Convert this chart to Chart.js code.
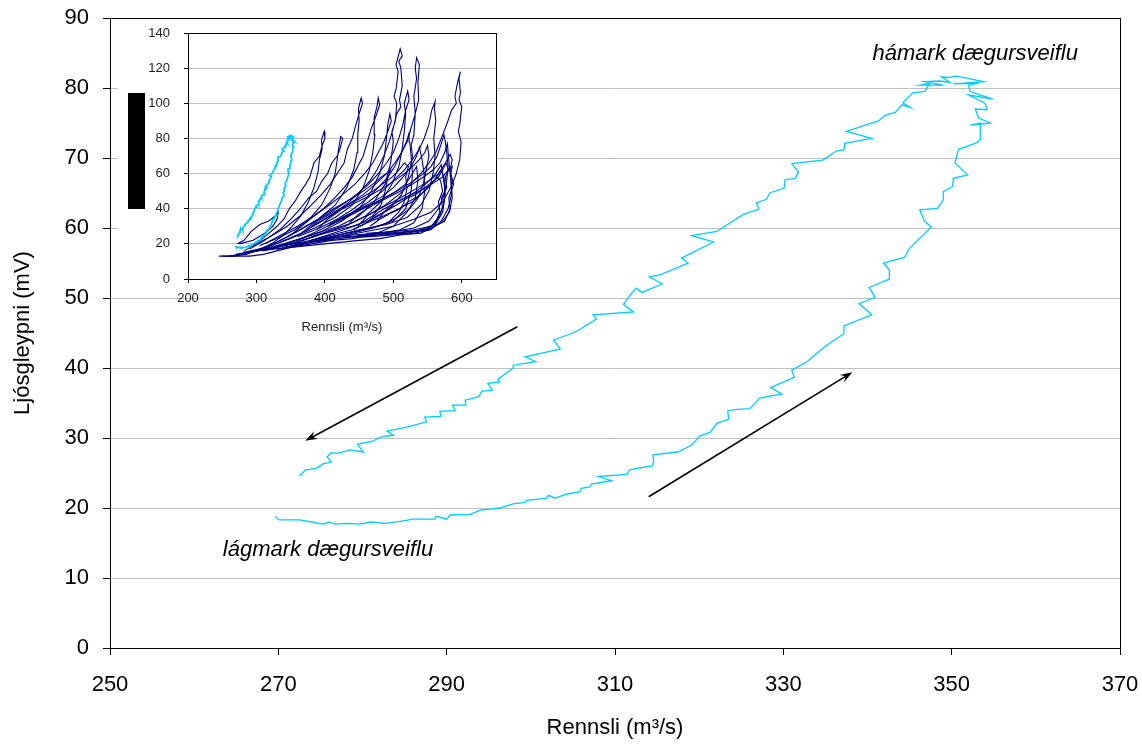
<!DOCTYPE html>
<html>
<head>
<meta charset="utf-8">
<script src="https://cdn.jsdelivr.net/npm/chart.js"></script>
<style>
  body { margin: 0; background: #fff; }
  #wrap { position: relative; width: 1142px; height: 745px; }
  #main { position: absolute; left: 0; top: 0; }
  #inset { position: absolute; left: 110px; top: 20px; }
</style>
</head>
<body>
<div id="wrap">
  <canvas id="main" width="1142" height="745"></canvas>
  <canvas id="inset" width="410" height="325"></canvas>
</div>
<script>
// one day cycle: Rennsli (m3/s) vs Ljósgleypni (mV), rising limb first, then falling limb
const rennsli = [
  269.6,270.1,272.5,274.0,275.2,276.1,276.7,278.1,279.7,280.9,282.7,284.5,286.0,288.6,288.7,290.0,
  290.4,292.8,294.0,296.3,297.9,299.3,299.5,301.9,302.1,302.9,304.3,305.8,306.0,307.0,307.2,309.6,
  308.0,311.4,311.8,314.4,314.6,314.5,317.5,319.1,320.1,321.3,322.1,323.5,323.4,324.5,326.0,327.2,
  329.8,328.5,330.8,331.3,331.0,332.8,334.0,335.2,337.2,337.2,340.5,339.0,340.9,340.2,342.6,342.6,
  341.9,344.4,345.0,347.6,346.8,346.2,348.3,349.0,349.0,350.1,350.2,351.9,350.4,350.8,353.0,353.4,
  353.4,352.2,354.6,353.2,352.8,354.2,354.0,352.0,354.9,352.2,352.0,353.2,350.2,353.8,350.6,349.6,
  348.8,349.8,348.6,346.8,349.0,346.2,347.4,346.8,345.4,344.2,345.1,344.1,343.3,342.1,341.3,337.5,
  340.5,337.3,337.2,336.3,334.7,331.0,331.8,331.4,330.2,330.1,328.4,328.0,326.8,327.1,325.2,322.1,
  319.1,321.7,317.9,318.7,315.6,314.1,315.6,313.2,312.5,311.6,311.0,312.2,307.4,307.8,305.8,305.0,
  302.7,303.5,299.3,300.6,297.9,297.9,296.1,296.3,294.9,295.4,294.2,293.8,292.2,292.3,290.7,291.0,
  289.2,289.3,287.4,287.6,285.4,284.7,282.9,283.7,282.3,281.1,279.4,280.1,278.5,277.1,276.3,275.8,
  276.3,275.3,274.6,273.2,272.9,272.5
];
const ljosgleypni = [
  18.8,18.3,18.3,18.0,17.7,18.0,17.7,17.8,17.7,18.0,17.8,18.1,18.4,18.4,18.8,18.4,
  19.0,19.1,19.7,20.0,20.6,20.8,21.1,21.4,21.8,21.4,22.0,22.3,22.8,23.0,23.4,23.9,
  24.5,24.8,25.5,26.0,26.6,27.6,28.0,29.0,30.3,30.8,32.1,32.7,33.9,34.1,34.2,35.7,
  36.3,37.2,38.4,38.7,39.7,40.9,42.1,43.3,44.9,46.0,47.6,49.2,50.1,51.5,52.7,54.0,
  55.0,55.8,57.1,60.2,60.9,62.6,62.8,64.0,65.2,65.9,67.1,67.6,69.3,71.2,72.2,72.6,
  75.0,74.7,75.0,75.7,77.0,76.9,77.8,79.0,78.4,79.5,80.4,80.7,80.6,80.9,81.7,81.5,
  81.6,80.8,81.0,80.9,80.4,80.4,80.7,79.5,79.3,77.9,77.2,77.6,76.5,76.1,75.3,73.8,
  72.8,72.1,71.2,71.0,69.7,69.2,68.0,67.1,66.9,65.7,65.0,64.1,63.6,62.7,61.9,59.5,
  58.9,58.0,55.7,55.0,53.4,53.0,52.0,50.8,51.4,50.1,49.1,48.0,47.6,47.0,45.5,45.0,
  44.0,42.7,41.6,40.9,40.4,40.0,38.4,38.0,37.8,36.8,36.7,35.9,35.4,34.7,34.7,33.9,
  33.8,33.1,33.0,32.3,31.6,31.4,31.0,30.4,30.2,29.5,29.1,28.0,28.3,27.8,27.9,27.3,
  26.6,26.3,25.7,25.4,25.0,24.6
];

// inset: other day cycles, [rennsli, ljósgleypni]
const insetLoops = [
  [[245,13],[265,13],[285,14],[305,17],[322,20],[340,25],[352,30],[365,36],[376,44],[384,52],[390,61],[392,68],[396,74],[395,79],[399,84],[400,80],[396,76],[392,70],[384,66],[378,58],[372,54],[365,50],[356,44],[348,40],[340,34],[330,30],[318,26],[300,20],[282,16]],
  [[260,13],[290,15],[320,19],[350,25],[375,33],[395,42],[408,52],[415,60],[418,68],[420,74],[423,81],[426,80],[422,74],[418,70],[410,66],[404,60],[396,56],[388,50],[376,46],[364,40],[350,34],[334,28],[312,22],[290,17]],
  [[270,14],[300,16],[330,21],[360,27],[390,34],[415,42],[432,52],[442,62],[447,72],[448,82],[450,90],[449,97],[453,103],[455,100],[450,94],[444,86],[440,80],[433,74],[428,66],[418,60],[408,54],[395,48],[380,42],[364,36],[345,30],[320,24],[295,19]],
  [[280,15],[315,18],[350,23],[385,29],[415,35],[440,42],[456,52],[465,62],[470,72],[473,82],[472,92],[476,98],[478,103],[480,99],[474,92],[468,86],[462,78],[456,70],[448,64],[440,58],[428,52],[414,46],[398,40],[378,34],[356,28],[330,23],[305,19]],
  [[300,16],[340,20],[380,25],[420,30],[450,36],[472,44],[488,54],[496,66],[500,78],[498,84],[503,90],[505,100],[501,104],[504,108],[507,118],[504,122],[506,125],[510,131],[513,127],[508,124],[511,120],[513,110],[509,102],[511,98],[505,94],[500,86],[494,78],[486,70],[476,62],[466,56],[452,50],[436,44],[416,38],[392,32],[365,26],[335,21]],
  [[320,17],[360,21],[400,26],[440,30],[470,34],[495,40],[512,48],[522,58],[528,70],[526,76],[530,82],[532,94],[530,104],[534,114],[532,120],[534,126],[538,122],[536,112],[537,102],[532,94],[526,86],[520,78],[512,72],[502,64],[492,58],[478,52],[462,46],[442,40],[418,34],[392,29],[360,24]],
  [[340,18],[380,21],[420,24],[460,27],[500,30],[530,34],[555,38],[572,44],[584,52],[592,60],[597,68],[599,78],[595,84],[597,88],[600,98],[596,102],[598,106],[596,114],[598,118],[594,112],[590,104],[592,100],[585,96],[578,88],[570,80],[562,72],[552,66],[540,60],[525,54],[508,48],[488,42],[466,37],[440,32],[410,28],[380,24]],
  [[330,17],[370,20],[410,24],[450,28],[490,31],[520,35],[540,42],[552,50],[558,60],[561,70],[559,80],[562,90],[560,97],[561,101],[556,96],[552,88],[545,80],[538,74],[528,68],[516,62],[500,56],[484,50],[464,44],[440,38],[414,32],[388,27],[360,22]],
  [[310,16],[350,20],[390,25],[430,30],[460,36],[482,44],[498,54],[508,64],[513,74],[516,84],[518,94],[516,100],[521,107],[523,102],[518,96],[514,88],[508,80],[500,72],[490,66],[478,60],[464,54],[446,48],[424,42],[400,36],[372,30],[345,24]],
  [[290,15],[325,18],[360,22],[395,27],[425,33],[450,40],[468,50],[480,60],[487,70],[490,80],[492,88],[495,94],[497,90],[492,84],[486,78],[478,72],[470,66],[458,60],[444,54],[426,48],[406,42],[384,36],[360,30],[336,25],[312,20]],
  [[350,19],[390,22],[430,26],[470,29],[500,33],[518,40],[526,50],[528,60],[526,70],[524,78],[523,83],[519,78],[512,72],[502,66],[490,60],[474,54],[456,48],[436,43],[412,37],[386,31]],
  [[380,21],[420,23],[460,25],[500,27],[530,29],[552,33],[566,40],[574,48],[578,56],[580,64],[578,72],[576,78],[574,82],[570,77],[564,70],[555,64],[544,60],[530,56],[514,52],[496,48],[476,44],[454,40],[430,36],[406,31]],
  [[400,23],[440,25],[480,26],[510,28],[530,32],[542,40],[546,50],[545,60],[542,68],[538,75],[534,70],[526,64],[514,58],[500,52],[484,47],[466,43],[446,39],[424,34]],
  [[420,24],[460,24],[500,25],[530,26],[555,28],[570,33],[580,40],[585,48],[584,56],[582,64],[580,72],[579,77],[575,72],[568,66],[558,62],[544,58],[528,54],[510,50],[490,46],[470,42],[450,37],[436,32]],
  [[440,24],[480,25],[520,26],[550,28],[570,32],[582,38],[586,46],[585,54],[583,62],[586,68],[583,71],[576,66],[566,60],[552,56],[536,52],[518,48],[500,44],[480,40],[462,36],[448,30]],
  [[460,26],[500,27],[530,28],[555,30],[568,36],[574,44],[575,52],[572,60],[570,65],[562,60],[550,55],[534,50],[516,46],[496,42],[478,38],[464,33]],
  [[275,20],[295,22],[312,26],[324,30],[330,34],[332,38],[328,36],[318,33],[305,31],[292,27],[282,22],[272,20]],
  [[300,16],[350,18],[400,20],[450,22],[480,23],[510,25],[540,26],[560,30],[572,38],[576,48],[574,58],[570,62],[560,56],[546,50],[528,44],[508,40],[486,36],[462,32],[440,28],[410,25],[380,22]],
  [[250,13],[270,13],[290,13],[310,14],[330,16],[350,18],[380,20],[410,22],[440,23],[470,25],[500,30],[520,38],[532,46],[536,56],[534,64],[528,60],[518,54],[504,50],[486,46],[466,42],[446,38],[426,34],[404,30]],
  [[430,24],[470,25],[510,26],[540,28],[560,31],[566,36],[572,40],[570,46],[578,52],[576,58],[581,62],[577,66],[572,62],[566,58],[556,55],[546,52],[532,48],[520,46],[504,42],[490,39],[472,35],[456,31],[442,28]],
  [[450,25],[490,26],[520,27],[548,28],[562,32],[568,38],[566,44],[572,50],[569,56],[563,58],[555,54],[545,50],[536,47],[522,44],[510,40],[494,37],[480,34],[466,30]],
  [[470,26],[500,26],[530,27],[555,29],[575,33],[583,40],[581,46],[588,54],[584,60],[586,64],[580,62],[572,58],[560,55],[548,52],[532,49],[516,46],[500,43],[486,38],[474,32]],
  [[360,20],[400,22],[440,26],[470,29],[492,32],[508,38],[516,44],[520,52],[518,58],[522,64],[516,66],[508,62],[498,58],[484,54],[470,50],[452,46],[432,42],[412,38],[390,33],[372,27]],
  [[380,22],[420,25],[455,28],[485,31],[506,35],[524,40],[536,46],[544,54],[548,62],[552,70],[550,76],[546,72],[538,68],[528,64],[516,60],[502,56],[486,52],[468,48],[448,44],[426,40],[404,34],[388,28]],
  [[340,19],[380,22],[420,27],[450,31],[470,36],[482,42],[488,50],[492,58],[496,62],[490,60],[482,58],[470,54],[456,50],[440,46],[422,42],[404,38],[384,32],[362,25]]
];

// annotations in data units
const arrows = [
  { from: [298.4, 45.9], to: [273.2, 29.6] },
  { from: [314.0, 21.6], to: [338.2, 39.4] }
];
const notes = [
  { text: 'hámark dægursveiflu', at: [352.8, 84.9] },
  { text: 'lágmark dægursveiflu', at: [275.9, 14.0] }
];

const CYAN = '#00CCFF';
const NAVY = '#000080';
Chart.defaults.font.family = '"Liberation Sans", Arial, sans-serif';
Chart.defaults.color = '#000';

const loopPoints = rennsli.map((x, i) => ({ x: x, y: ljosgleypni[i] }));

// keep tick label overflow from moving the plot area
function noOverflow(s) {
  s.paddingLeft = 0; s.paddingRight = 0; s.paddingTop = 0; s.paddingBottom = 0;
}

const frame = {
  id: 'frame',
  afterDatasetsDraw(chart) {
    const { ctx, chartArea: a } = chart;
    ctx.save();
    ctx.strokeStyle = '#000';
    ctx.lineWidth = 1;
    ctx.strokeRect(Math.round(a.left) + 0.5, Math.round(a.top) + 0.5,
      Math.round(a.right - a.left), Math.round(a.bottom - a.top));
    ctx.restore();
  }
};

function drawArrow(ctx, x1, y1, x2, y2) {
  const ang = Math.atan2(y2 - y1, x2 - x1), L = 13, w = 0.33;
  ctx.beginPath();
  ctx.moveTo(x1, y1);
  ctx.lineTo(x2 - 6 * Math.cos(ang), y2 - 6 * Math.sin(ang));
  ctx.stroke();
  ctx.beginPath();
  ctx.moveTo(x2, y2);
  ctx.lineTo(x2 - L * Math.cos(ang - w), y2 - L * Math.sin(ang - w));
  ctx.lineTo(x2 - 0.6 * L * Math.cos(ang), y2 - 0.6 * L * Math.sin(ang));
  ctx.lineTo(x2 - L * Math.cos(ang + w), y2 - L * Math.sin(ang + w));
  ctx.closePath();
  ctx.fill();
}

const annotations = {
  id: 'annotations',
  afterDraw(chart) {
    const { ctx, scales: { x, y } } = chart;
    ctx.save();
    ctx.strokeStyle = '#000';
    ctx.fillStyle = '#000';
    ctx.lineWidth = 1.6;
    arrows.forEach(a => drawArrow(ctx,
      x.getPixelForValue(a.from[0]), y.getPixelForValue(a.from[1]),
      x.getPixelForValue(a.to[0]), y.getPixelForValue(a.to[1])));
    ctx.font = 'italic 22px "Liberation Sans", Arial, sans-serif';
    ctx.textAlign = 'center';
    ctx.textBaseline = 'middle';
    notes.forEach(n => ctx.fillText(n.text, x.getPixelForValue(n.at[0]), y.getPixelForValue(n.at[1])));
    ctx.restore();
  }
};

new Chart(document.getElementById('main'), {
  type: 'scatter',
  data: {
    datasets: [{
      data: loopPoints,
      showLine: true,
      borderColor: CYAN,
      borderWidth: 1.3,
      pointRadius: 0,
      tension: 0
    }]
  },
  options: {
    responsive: false,
    animation: false,
    layout: { padding: { left: 0, top: 18, right: 22, bottom: 0 } },
    plugins: { legend: { display: false }, tooltip: { enabled: false } },
    scales: {
      x: {
        type: 'linear', min: 250, max: 370,
        ticks: { stepSize: 20, padding: 17, font: { size: 22 }, maxRotation: 0 },
        grid: { drawOnChartArea: false, tickLength: 7, tickColor: '#000' },
        border: { color: '#000' },
        title: { display: true, text: 'Rennsli (m³/s)', font: { size: 22 }, padding: { top: 0, bottom: 4 } },
        afterFit(s) { s.height = 97; noOverflow(s); }
      },
      y: {
        type: 'linear', min: 0, max: 90,
        ticks: { stepSize: 10, padding: 14, font: { size: 22 } },
        grid: { color: '#BFBFBF', tickLength: 7, tickColor: '#000' },
        border: { color: '#000' },
        title: { display: true, text: 'Ljósgleypni (mV)', font: { size: 22 }, padding: { top: 10, bottom: 0 } },
        afterFit(s) { s.width = 110; noOverflow(s); }
      }
    }
  },
  plugins: [frame, annotations]
});

// inset background box and the black legend block
const insetBack = {
  id: 'insetBack',
  beforeDraw(chart) {
    const { ctx, chartArea: a } = chart;
    ctx.save();
    ctx.fillStyle = '#fff';
    ctx.fillRect(8, 0, a.right - 8, 270);
    ctx.fillStyle = '#000';
    ctx.fillRect(18, 73, 17, 116);
    ctx.restore();
  }
};

new Chart(document.getElementById('inset'), {
  type: 'scatter',
  data: {
    datasets: [{
      data: loopPoints,
      showLine: true,
      borderColor: CYAN,
      borderWidth: 1.7,
      pointRadius: 0
    }].concat(insetLoops.map(l => ({
      data: l.map(p => ({ x: p[0], y: p[1] })),
      showLine: true,
      borderColor: NAVY,
      borderWidth: 1.1,
      pointRadius: 0
    })))
  },
  options: {
    responsive: false,
    animation: false,
    layout: { padding: { left: 0, top: 13, right: 24, bottom: 0 } },
    plugins: { legend: { display: false }, tooltip: { enabled: false } },
    scales: {
      x: {
        type: 'linear', min: 200, max: 650,
        ticks: { stepSize: 100, padding: 8, font: { size: 13 }, color: '#222', maxRotation: 0 },
        afterBuildTicks(s) { s.ticks = s.ticks.filter(t => t.value <= 600); },
        grid: { drawOnChartArea: false, tickLength: 4, tickColor: '#000' },
        border: { color: '#000' },
        title: { display: true, text: 'Rennsli (m³/s)', font: { size: 13 }, color: '#222', padding: { top: 0, bottom: 10 } },
        afterFit(s) { s.height = 66; noOverflow(s); }
      },
      y: {
        type: 'linear', min: 0, max: 140,
        ticks: { stepSize: 20, padding: 14, font: { size: 13 }, color: '#222' },
        grid: { color: '#BFBFBF', tickLength: 4, tickColor: '#000' },
        border: { color: '#000' },
        afterFit(s) { s.width = 78; noOverflow(s); }
      }
    }
  },
  plugins: [insetBack, frame]
});
</script>
</body>
</html>
